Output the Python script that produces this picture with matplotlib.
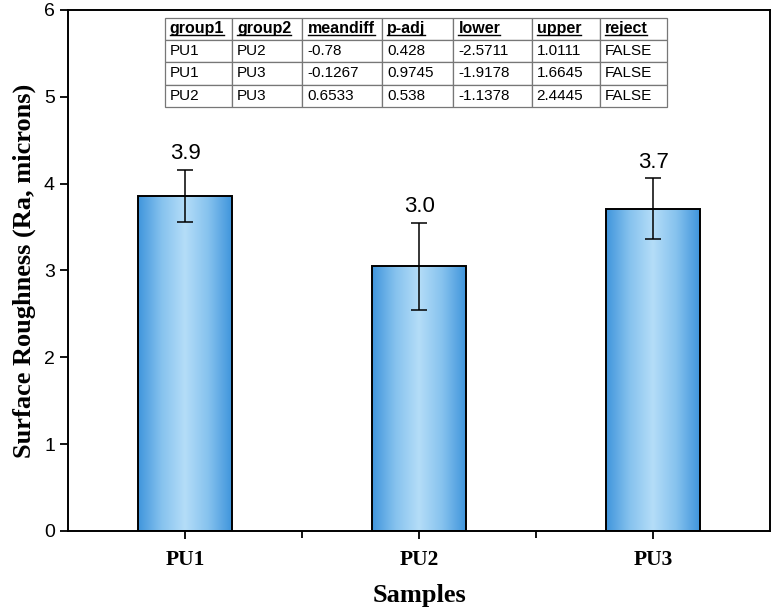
import matplotlib.pyplot as plt
import numpy as np
from matplotlib.colors import LinearSegmentedColormap
from matplotlib.lines import Line2D

samples = ['PU1', 'PU2', 'PU3']
roughness = [3.86, 3.05, 3.71]
errors = [0.30, 0.50, 0.35]
value_labels = ['3.9', '3.0', '3.7']

table_header = ['group1', 'group2', 'meandiff', 'p-adj', 'lower', 'upper', 'reject']
table_rows = [
    ['PU1', 'PU2', '-0.78', '0.428', '-2.5711', '1.0111', 'FALSE'],
    ['PU1', 'PU3', '-0.1267', '0.9745', '-1.9178', '1.6645', 'FALSE'],
    ['PU2', 'PU3', '0.6533', '0.538', '-1.1378', '2.4445', 'FALSE'],
]

sans = ['Liberation Sans', 'DejaVu Sans']
serif = ['Liberation Serif', 'DejaVu Serif']

fig = plt.figure(figsize=(7.74, 6.16), dpi=100)
ax = fig.add_axes([0.088, 0.138, 0.907, 0.846])

x = np.arange(1, len(samples) + 1)
bars = ax.bar(x, roughness, width=0.4, color='none', edgecolor='black', linewidth=1.4, zorder=3)

# horizontal gradient inside each bar: darker edges, light centre
cmap = LinearSegmentedColormap.from_list('barblue', ['#3f95dc', '#86c2ee', '#b5ddf8', '#86c2ee', '#3f95dc'])
grad = np.linspace(0, 1, 256).reshape(1, -1)
for b in bars:
    x0, w, h = b.get_x(), b.get_width(), b.get_height()
    im = ax.imshow(grad, cmap=cmap, extent=[x0, x0 + w, 0, h], aspect='auto', zorder=2)
    im.set_clip_path(b)

ax.errorbar(x, roughness, yerr=errors, fmt='none', ecolor='black', elinewidth=1.1,
            capsize=6, capthick=1.1, zorder=4)

for xi, v, e, lab in zip(x, roughness, errors, value_labels):
    ax.text(xi, v + e + 0.06, lab, ha='center', va='bottom', fontsize=16, family=sans)

ax.set_xlim(0.5, 3.5)
ax.set_ylim(0, 6)
ax.set_xticks(x)
ax.set_xticklabels(samples, fontsize=15.5, fontweight='bold', family=serif)
ax.set_xticks([1.5, 2.5], minor=True)
ax.set_yticks(range(0, 7))
ax.set_yticklabels([str(i) for i in range(0, 7)], fontsize=14, family=sans)
ax.tick_params(axis='both', which='major', direction='out', length=6, width=1.3)
ax.tick_params(axis='x', which='minor', direction='out', length=5, width=1.3)
ax.tick_params(axis='x', pad=8)
for s in ax.spines.values():
    s.set_linewidth(1.4)

ax.set_xlabel('Samples', fontsize=19, fontweight='bold', family=serif, labelpad=10)
ax.set_ylabel('Surface Roughness (Ra, microns)', fontsize=19, fontweight='bold', family=serif, labelpad=6)

col_w = [67, 70, 80, 71, 79, 68, 67]
col_w = [c / sum(col_w) for c in col_w]
tbl = ax.table(cellText=table_rows, colLabels=table_header, colWidths=col_w,
               cellLoc='left', colLoc='left', bbox=[0.138, 0.814, 0.715, 0.171], zorder=5)
tbl.auto_set_font_size(False)
tbl.set_fontsize(11)
for (r, c), cell in tbl.get_celld().items():
    cell.set_edgecolor('#777777')
    cell.set_linewidth(0.9)
    cell.PAD = 0.07
    cell.get_text().set_family(sans)
    if r == 0:
        cell.get_text().set_fontweight('bold')
        cell.get_text().set_fontsize(11.5)

# underline the header texts
fig.canvas.draw()
rend = fig.canvas.get_renderer()
inv = fig.transFigure.inverted()
for c in range(len(table_header)):
    bb = tbl[0, c].get_text().get_window_extent(rend)
    (fx0, fy0), (fx1, fy1) = inv.transform([[bb.x0, bb.y0 + 1], [bb.x1, bb.y0 + 1]])
    fig.add_artist(Line2D([fx0, fx1], [fy0, fy1], color='black', linewidth=1.0, zorder=6))

fig.savefig('out.png', dpi=100)
